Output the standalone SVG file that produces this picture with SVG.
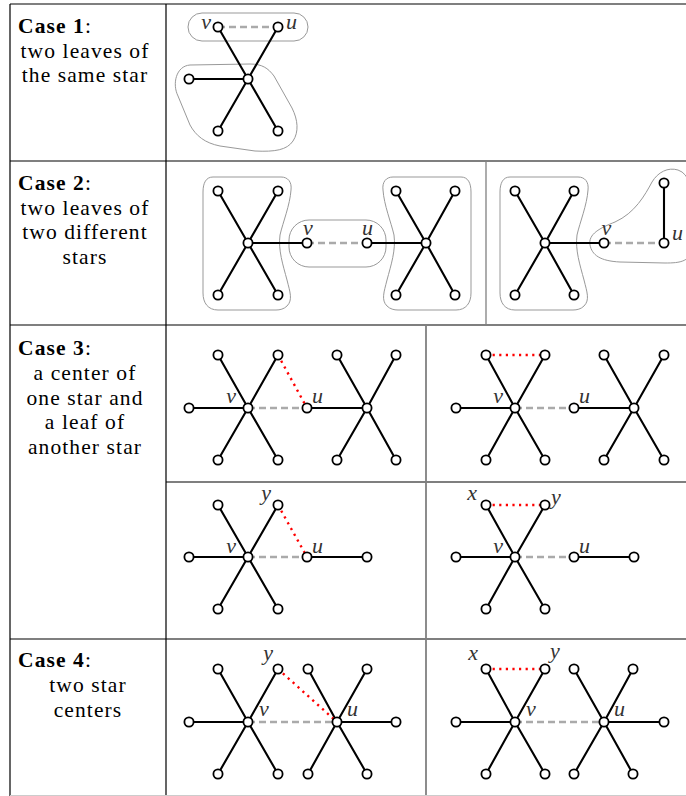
<svg xmlns="http://www.w3.org/2000/svg" width="686" height="796" viewBox="0 0 686 796">
<style>
.e{stroke:#000;stroke-width:2.1;fill:none}
.d{stroke:#aaa;stroke-width:2.4;stroke-dasharray:7 4;fill:none}
.r{stroke:#f00;stroke-width:2.4;stroke-dasharray:2.2 4.4;fill:none}
.h{stroke:#999;stroke-width:1;fill:none}
.n{fill:#fff;stroke:#000;stroke-width:1.8}
.t{font-family:"Liberation Serif","Times New Roman",serif;font-size:21.5px;letter-spacing:1.1px;fill:#000}
.c{text-anchor:middle}
.b{font-weight:bold}
.l{font-family:"Liberation Serif","Times New Roman",serif;font-style:italic;font-size:22px;fill:#333}
.tb{stroke:#000;stroke-width:1.2;fill:none}
.tg{stroke:#808080;fill:none}
</style>
<rect width="686" height="796" fill="#fff"/>
<g id="table">
<path class="tb" d="M10,4 H686 M10,161 H686 M10,325 H686 M10,639 H686 M166,482 H686 M10,4 V796 M166,4 V796"/>
<path class="tg" stroke-width="1.3" d="M486,161 V325"/>
<path class="tg" stroke-width="1.8" d="M426,325 V796"/>
<path stroke="#ccc" stroke-width="1" d="M10,795.5 H686"/>
</g>
<g id="captions">
<text class="t" x="18" y="33"><tspan class="b">Case 1</tspan>:</text>
<text class="t c" x="85" y="57.5">two leaves of</text>
<text class="t c" x="85" y="82">the same star</text>
<text class="t" x="18" y="190"><tspan class="b">Case 2</tspan>:</text>
<text class="t c" x="85" y="214.5">two leaves of</text>
<text class="t c" x="85" y="239">two different</text>
<text class="t c" x="85" y="263.5">stars</text>
<text class="t" x="18" y="355"><tspan class="b">Case 3</tspan>:</text>
<text class="t c" x="85" y="380">a center of</text>
<text class="t c" x="85" y="404.5">one star and</text>
<text class="t c" x="85" y="429">a leaf of</text>
<text class="t c" x="85" y="453.5">another star</text>
<text class="t" x="18" y="667"><tspan class="b">Case 4</tspan>:</text>
<text class="t c" x="88" y="692">two star</text>
<text class="t c" x="88" y="716.5">centers</text>
</g>
<g id="hulls">
<rect class="h" x="188" y="13" width="120" height="28" rx="14"/>
<path class="h" d="M190,65 L250,64 C262,64 268,68 274,76 L292,108 C298,120 299,132 293,141 C287,150 275,152 255,151 L220,146 C205,143 196,136 190,125 L178,96 C172,84 176,66 190,65 Z"/>
<path class="h" d="M213,177 L281,177 C288,177 292,182 291,190 C290,205 283,222 280,235 C278,250 283,265 287,280 C290,292 293,300 287,306 C284,309 280,310 276,310 L218,310 C208,310 203,303 203,293 L203,192 C203,183 206,177 213,177 Z"/>
<path class="h" d="M461,177 L393,177 C386,177 382,182 383,190 C384,205 391,222 394,235 C396,250 391,265 387,280 C384,292 381,300 387,306 C390,309 394,310 398,310 L456,310 C466,310 471,303 471,293 L471,192 C471,183 468,177 461,177 Z"/>
<rect class="h" x="289" y="220" width="97" height="47" rx="20"/>
<path class="h" d="M510,177 L578,177 C585,177 589,182 588,190 C587,205 580,222 577,235 C575,250 580,265 584,280 C587,292 590,300 584,306 C581,309 577,310 573,310 L515,310 C505,310 500,303 500,293 L500,192 C500,183 503,177 510,177 Z"/>
<path class="h" d="M590,245 C588,234 600,228 615,222 C635,213 645,195 652,182 C658,172 668,167 678,170 C690,174 692,190 692,205 L692,245 C692,262 680,263 665,263 L620,262 C600,261 592,255 590,245 Z"/>
</g>
<g id="connectors">
<line class="d" x1="218" y1="27" x2="278" y2="27"/>
<path class="e" d="M248,79 L218,27 M248,79 L278,27 M248,79 L189,79 M248,79 L218,131 M248,79 L278,131"/>
<line class="d" x1="307" y1="243" x2="367" y2="243"/>
<path class="e" d="M248,243 L218,191 M248,243 L278,191 M248,243 L218,295 M248,243 L278,295 M248,243 L307,243"/>
<path class="e" d="M426,243 L396,191 M426,243 L455,191 M426,243 L396,295 M426,243 L455,295 M426,243 L367,243"/>
<line class="d" x1="604" y1="243" x2="664" y2="243"/>
<path class="e" d="M545,243 L515,191 M545,243 L574,191 M545,243 L515,295 M545,243 L574,295 M545,243 L604,243 M664,243 L664,183"/>
<line class="d" x1="248" y1="408" x2="307" y2="408"/>
<path class="e" d="M248,408 L218,355 M248,408 L278,355 M248,408 L189,408 M248,408 L218,460 M248,408 L278,460"/>
<path class="e" d="M367,408 L337,355 M367,408 L396,355 M367,408 L337,460 M367,408 L396,460 M367,408 L307,408"/>
<line class="r" x1="278" y1="355" x2="307" y2="408"/>
<line class="d" x1="515" y1="408" x2="574" y2="408"/>
<path class="e" d="M515,408 L486,355 M515,408 L545,355 M515,408 L456,408 M515,408 L486,460 M515,408 L545,460"/>
<path class="e" d="M634,408 L604,355 M634,408 L664,355 M634,408 L604,460 M634,408 L664,460 M634,408 L574,408"/>
<line class="r" x1="486" y1="355" x2="545" y2="355"/>
<line class="d" x1="248" y1="557" x2="307" y2="557"/>
<path class="e" d="M248,557 L218,505 M248,557 L278,505 M248,557 L189,557 M248,557 L218,609 M248,557 L278,609 M307,557 L367,557"/>
<line class="r" x1="278" y1="505" x2="307" y2="557"/>
<line class="d" x1="515" y1="557" x2="574" y2="557"/>
<path class="e" d="M515,557 L486,505 M515,557 L545,505 M515,557 L456,557 M515,557 L486,609 M515,557 L545,609 M574,557 L634,557"/>
<line class="r" x1="486" y1="505" x2="545" y2="505"/>
<line class="d" x1="248" y1="722" x2="337" y2="722"/>
<path class="e" d="M248,722 L218,669 M248,722 L278,669 M248,722 L189,722 M248,722 L218,774 M248,722 L278,774"/>
<path class="e" d="M337,722 L308,669 M337,722 L367,669 M337,722 L396,722 M337,722 L308,774 M337,722 L367,774"/>
<line class="r" x1="278" y1="669" x2="337" y2="722"/>
<line class="d" x1="515" y1="722" x2="604" y2="722"/>
<path class="e" d="M515,722 L486,669 M515,722 L545,669 M515,722 L456,722 M515,722 L486,774 M515,722 L545,774"/>
<path class="e" d="M604,722 L574,669 M604,722 L633,669 M604,722 L664,722 M604,722 L574,774 M604,722 L633,774"/>
<line class="r" x1="486" y1="669" x2="545" y2="669"/>
</g>
<g id="case1">
<g id="c1-center"><circle class="n" cx="248" cy="79" r="4.6"/></g>
<g id="c1-v"><circle class="n" cx="218" cy="27" r="4.6"/><text class="l" x="211" y="29" text-anchor="end">v</text></g>
<g id="c1-u"><circle class="n" cx="278" cy="27" r="4.6"/><text class="l" x="286" y="29">u</text></g>
<g id="c1-l"><circle class="n" cx="189" cy="79" r="4.6"/></g>
<g id="c1-bl"><circle class="n" cx="218" cy="131" r="4.6"/></g>
<g id="c1-br"><circle class="n" cx="278" cy="131" r="4.6"/></g>
</g>
<g id="case2a">
<g id="c2a-a"><circle class="n" cx="248" cy="243" r="4.6"/></g>
<g id="c2a-a1"><circle class="n" cx="218" cy="191" r="4.6"/></g>
<g id="c2a-a2"><circle class="n" cx="278" cy="191" r="4.6"/></g>
<g id="c2a-a3"><circle class="n" cx="218" cy="295" r="4.6"/></g>
<g id="c2a-a4"><circle class="n" cx="278" cy="295" r="4.6"/></g>
<g id="c2a-v"><circle class="n" cx="307" cy="243" r="4.6"/><text class="l" x="308" y="235" text-anchor="middle">v</text></g>
<g id="c2a-u"><circle class="n" cx="367" cy="243" r="4.6"/><text class="l" x="367.5" y="235" text-anchor="middle">u</text></g>
<g id="c2a-b"><circle class="n" cx="426" cy="243" r="4.6"/></g>
<g id="c2a-b1"><circle class="n" cx="396" cy="191" r="4.6"/></g>
<g id="c2a-b2"><circle class="n" cx="455" cy="191" r="4.6"/></g>
<g id="c2a-b3"><circle class="n" cx="396" cy="295" r="4.6"/></g>
<g id="c2a-b4"><circle class="n" cx="455" cy="295" r="4.6"/></g>
</g>
<g id="case2b">
<g id="c2b-a"><circle class="n" cx="545" cy="243" r="4.6"/></g>
<g id="c2b-a1"><circle class="n" cx="515" cy="191" r="4.6"/></g>
<g id="c2b-a2"><circle class="n" cx="574" cy="191" r="4.6"/></g>
<g id="c2b-a3"><circle class="n" cx="515" cy="295" r="4.6"/></g>
<g id="c2b-a4"><circle class="n" cx="574" cy="295" r="4.6"/></g>
<g id="c2b-v"><circle class="n" cx="604" cy="243" r="4.6"/><text class="l" x="606.5" y="235" text-anchor="middle">v</text></g>
<g id="c2b-u"><circle class="n" cx="664" cy="243" r="4.6"/><text class="l" x="672" y="240">u</text></g>
<g id="c2b-w"><circle class="n" cx="664" cy="183" r="4.6"/></g>
</g>
<g id="case3a">
<g id="c3a-v"><circle class="n" cx="248" cy="408" r="4.6"/><text class="l" x="236" y="403" text-anchor="end">v</text></g>
<g id="c3a-a1"><circle class="n" cx="218" cy="355" r="4.6"/></g>
<g id="c3a-a2"><circle class="n" cx="278" cy="355" r="4.6"/></g>
<g id="c3a-a3"><circle class="n" cx="189" cy="408" r="4.6"/></g>
<g id="c3a-a4"><circle class="n" cx="218" cy="460" r="4.6"/></g>
<g id="c3a-a5"><circle class="n" cx="278" cy="460" r="4.6"/></g>
<g id="c3a-u"><circle class="n" cx="307" cy="408" r="4.6"/><text class="l" x="312" y="403">u</text></g>
<g id="c3a-b"><circle class="n" cx="367" cy="408" r="4.6"/></g>
<g id="c3a-b1"><circle class="n" cx="337" cy="355" r="4.6"/></g>
<g id="c3a-b2"><circle class="n" cx="396" cy="355" r="4.6"/></g>
<g id="c3a-b3"><circle class="n" cx="337" cy="460" r="4.6"/></g>
<g id="c3a-b4"><circle class="n" cx="396" cy="460" r="4.6"/></g>
</g>
<g id="case3b">
<g id="c3b-v"><circle class="n" cx="515" cy="408" r="4.6"/><text class="l" x="503" y="403" text-anchor="end">v</text></g>
<g id="c3b-a1"><circle class="n" cx="486" cy="355" r="4.6"/></g>
<g id="c3b-a2"><circle class="n" cx="545" cy="355" r="4.6"/></g>
<g id="c3b-a3"><circle class="n" cx="456" cy="408" r="4.6"/></g>
<g id="c3b-a4"><circle class="n" cx="486" cy="460" r="4.6"/></g>
<g id="c3b-a5"><circle class="n" cx="545" cy="460" r="4.6"/></g>
<g id="c3b-u"><circle class="n" cx="574" cy="408" r="4.6"/><text class="l" x="579" y="403">u</text></g>
<g id="c3b-b"><circle class="n" cx="634" cy="408" r="4.6"/></g>
<g id="c3b-b1"><circle class="n" cx="604" cy="355" r="4.6"/></g>
<g id="c3b-b2"><circle class="n" cx="664" cy="355" r="4.6"/></g>
<g id="c3b-b3"><circle class="n" cx="604" cy="460" r="4.6"/></g>
<g id="c3b-b4"><circle class="n" cx="664" cy="460" r="4.6"/></g>
</g>
<g id="case3c">
<g id="c3c-v"><circle class="n" cx="248" cy="557" r="4.6"/><text class="l" x="236" y="553" text-anchor="end">v</text></g>
<g id="c3c-a1"><circle class="n" cx="218" cy="505" r="4.6"/></g>
<g id="c3c-y"><circle class="n" cx="278" cy="505" r="4.6"/><text class="l" x="271" y="500" text-anchor="end">y</text></g>
<g id="c3c-a3"><circle class="n" cx="189" cy="557" r="4.6"/></g>
<g id="c3c-a4"><circle class="n" cx="218" cy="609" r="4.6"/></g>
<g id="c3c-a5"><circle class="n" cx="278" cy="609" r="4.6"/></g>
<g id="c3c-u"><circle class="n" cx="307" cy="557" r="4.6"/><text class="l" x="312" y="553">u</text></g>
<g id="c3c-w"><circle class="n" cx="367" cy="557" r="4.6"/></g>
</g>
<g id="case3d">
<g id="c3d-v"><circle class="n" cx="515" cy="557" r="4.6"/><text class="l" x="503" y="553" text-anchor="end">v</text></g>
<g id="c3d-x"><circle class="n" cx="486" cy="505" r="4.6"/><text class="l" x="477" y="500" text-anchor="end">x</text></g>
<g id="c3d-y"><circle class="n" cx="545" cy="505" r="4.6"/><text class="l" x="551" y="504">y</text></g>
<g id="c3d-a3"><circle class="n" cx="456" cy="557" r="4.6"/></g>
<g id="c3d-a4"><circle class="n" cx="486" cy="609" r="4.6"/></g>
<g id="c3d-a5"><circle class="n" cx="545" cy="609" r="4.6"/></g>
<g id="c3d-u"><circle class="n" cx="574" cy="557" r="4.6"/><text class="l" x="579" y="553">u</text></g>
<g id="c3d-w"><circle class="n" cx="634" cy="557" r="4.6"/></g>
</g>
<g id="case4a">
<g id="c4a-v"><circle class="n" cx="248" cy="722" r="4.6"/><text class="l" x="259" y="716">v</text></g>
<g id="c4a-a1"><circle class="n" cx="218" cy="669" r="4.6"/></g>
<g id="c4a-y"><circle class="n" cx="278" cy="669" r="4.6"/><text class="l" x="273" y="660" text-anchor="end">y</text></g>
<g id="c4a-a3"><circle class="n" cx="189" cy="722" r="4.6"/></g>
<g id="c4a-a4"><circle class="n" cx="218" cy="774" r="4.6"/></g>
<g id="c4a-a5"><circle class="n" cx="278" cy="774" r="4.6"/></g>
<g id="c4a-u"><circle class="n" cx="337" cy="722" r="4.6"/><text class="l" x="347" y="716">u</text></g>
<g id="c4a-b1"><circle class="n" cx="308" cy="669" r="4.6"/></g>
<g id="c4a-b2"><circle class="n" cx="367" cy="669" r="4.6"/></g>
<g id="c4a-b3"><circle class="n" cx="396" cy="722" r="4.6"/></g>
<g id="c4a-b4"><circle class="n" cx="308" cy="774" r="4.6"/></g>
<g id="c4a-b5"><circle class="n" cx="367" cy="774" r="4.6"/></g>
</g>
<g id="case4b">
<g id="c4b-v"><circle class="n" cx="515" cy="722" r="4.6"/><text class="l" x="526" y="716">v</text></g>
<g id="c4b-x"><circle class="n" cx="486" cy="669" r="4.6"/><text class="l" x="478" y="660" text-anchor="end">x</text></g>
<g id="c4b-y"><circle class="n" cx="545" cy="669" r="4.6"/><text class="l" x="550" y="658">y</text></g>
<g id="c4b-a3"><circle class="n" cx="456" cy="722" r="4.6"/></g>
<g id="c4b-a4"><circle class="n" cx="486" cy="774" r="4.6"/></g>
<g id="c4b-a5"><circle class="n" cx="545" cy="774" r="4.6"/></g>
<g id="c4b-u"><circle class="n" cx="604" cy="722" r="4.6"/><text class="l" x="614" y="716">u</text></g>
<g id="c4b-b1"><circle class="n" cx="574" cy="669" r="4.6"/></g>
<g id="c4b-b2"><circle class="n" cx="633" cy="669" r="4.6"/></g>
<g id="c4b-b3"><circle class="n" cx="664" cy="722" r="4.6"/></g>
<g id="c4b-b4"><circle class="n" cx="574" cy="774" r="4.6"/></g>
<g id="c4b-b5"><circle class="n" cx="633" cy="774" r="4.6"/></g>
</g>
</svg>
